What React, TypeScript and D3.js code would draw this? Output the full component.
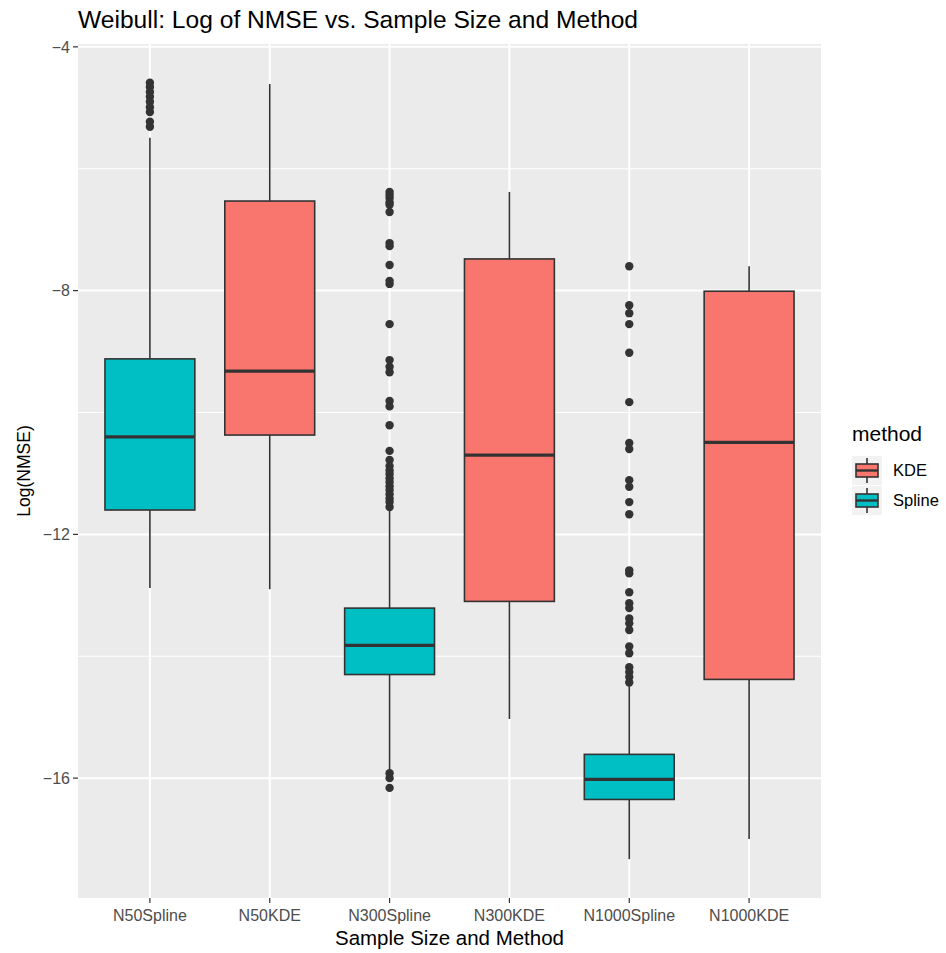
import React from 'react';
import * as d3 from 'd3';

// categories in plot order and the method each belongs to
const categories = ['N50Spline', 'N50KDE', 'N300Spline', 'N300KDE', 'N1000Spline', 'N1000KDE'];
const methodOf = ['Spline', 'KDE', 'Spline', 'KDE', 'Spline', 'KDE'];
const methods = ['KDE', 'Spline'];
const methodColors = ['#F8766D', '#00BFC4'];

// box stats
const whiskerLow = [-12.88, -12.9, -15.87, -15.03, -17.33, -17.0];
const q1 = [-11.6, -10.37, -14.3, -13.1, -16.35, -14.38];
const median = [-10.4, -9.32, -13.82, -10.7, -16.02, -10.49];
const q3 = [-9.12, -6.53, -13.21, -7.48, -15.61, -8.01];
const whiskerHigh = [-5.49, -4.61, -11.6, -6.38, -14.49, -7.6];

// outliers per category
const outliersN50Spline = [-4.59, -4.66, -4.74, -4.82, -4.9, -4.99, -5.07, -5.23, -5.31];
const outliersN50KDE: number[] = [];
const outliersN300Spline = [
  -6.38, -6.43, -6.48, -6.55, -6.59, -6.71, -7.22, -7.27, -7.58, -7.84, -7.89, -8.55,
  -9.14, -9.25, -9.34, -9.81, -9.9, -10.21, -10.63, -10.78, -10.88, -10.95, -11.01,
  -11.08, -11.14, -11.21, -11.27, -11.34, -11.41, -11.47, -11.55, -15.92, -16.0, -16.16,
];
const outliersN300KDE: number[] = [];
const outliersN1000Spline = [
  -7.6, -8.24, -8.37, -8.55, -9.02, -9.83, -10.5, -10.6, -11.11, -11.22, -11.47, -11.67,
  -12.59, -12.64, -12.95, -13.13, -13.21, -13.38, -13.46, -13.57, -13.84, -13.95,
  -14.18, -14.26, -14.34, -14.43,
];
const outliersN1000KDE: number[] = [];
const outliers = [
  outliersN50Spline, outliersN50KDE, outliersN300Spline,
  outliersN300KDE, outliersN1000Spline, outliersN1000KDE,
];

const yTicks = [-16, -12, -8, -4];
const yMinor = [-14, -10, -6];

const W = 946;
const H = 953;
const margin = { top: 44, right: 125, bottom: 55, left: 78 };
const FONT = '"Liberation Sans", Arial, Helvetica, sans-serif';

export default function App() {
  const pw = W - margin.left - margin.right;
  const ph = H - margin.top - margin.bottom;

  const x = d3.scalePoint<string>().domain(categories).range([0, pw]).padding(0.6);
  const step = x.step();
  const boxW = step * 0.75;

  const allVals = [...whiskerLow, ...whiskerHigh, ...outliers.flat()];
  const lo = d3.min(allVals) as number;
  const hi = d3.max(allVals) as number;
  const pad = (hi - lo) * 0.05;
  const y = d3.scaleLinear().domain([lo - pad, hi + pad]).range([ph, 0]);

  const color = d3.scaleOrdinal<string, string>().domain(methods).range(methodColors);
  const grey20 = '#333333';

  return (
    <svg width={W} height={H} style={{ position: 'absolute', left: 0, top: 0 }} fontFamily={FONT}>
      <rect width={W} height={H} fill="#ffffff" />
      <text x={margin.left} y={28} fontSize={24.6} fill="#000">
        Weibull: Log of NMSE vs. Sample Size and Method
      </text>
      <g transform={`translate(${margin.left},${margin.top})`}>
        <rect width={pw} height={ph} fill="#ebebeb" />
        {yMinor.map((t) => (
          <line key={'mn' + t} x1={0} x2={pw} y1={y(t)} y2={y(t)} stroke="#fff" strokeWidth={1} />
        ))}
        {yTicks.map((t) => (
          <line key={'mj' + t} x1={0} x2={pw} y1={y(t)} y2={y(t)} stroke="#fff" strokeWidth={2} />
        ))}
        {categories.map((c) => (
          <line key={'vx' + c} x1={x(c)} x2={x(c)} y1={0} y2={ph} stroke="#fff" strokeWidth={2} />
        ))}

        {categories.map((c, i) => {
          const cx = x(c) as number;
          const fill = color(methodOf[i]);
          return (
            <g key={'box' + c}>
              <line x1={cx} x2={cx} y1={y(whiskerHigh[i])} y2={y(q3[i])} stroke={grey20} strokeWidth={1.6} />
              <line x1={cx} x2={cx} y1={y(q1[i])} y2={y(whiskerLow[i])} stroke={grey20} strokeWidth={1.6} />
              <rect
                x={cx - boxW / 2}
                y={y(q3[i])}
                width={boxW}
                height={y(q1[i]) - y(q3[i])}
                fill={fill}
                stroke={grey20}
                strokeWidth={1.6}
              />
              <line
                x1={cx - boxW / 2}
                x2={cx + boxW / 2}
                y1={y(median[i])}
                y2={y(median[i])}
                stroke={grey20}
                strokeWidth={3.2}
              />
              {outliers[i].map((v, j) => (
                <circle key={j} cx={cx} cy={y(v)} r={4.2} fill={grey20} />
              ))}
            </g>
          );
        })}

        {/* y axis */}
        {yTicks.map((t) => (
          <g key={'yt' + t} transform={`translate(0,${y(t)})`}>
            <line x1={-5} x2={0} stroke={grey20} strokeWidth={1.2} />
            <text x={-8} dy="0.36em" textAnchor="end" fontSize={16} fill="#4d4d4d">
              {t < 0 ? '\u2212' + Math.abs(t) : t}
            </text>
          </g>
        ))}
        {/* x axis */}
        {categories.map((c) => (
          <g key={'xt' + c} transform={`translate(${x(c)},${ph})`}>
            <line y1={0} y2={5} stroke={grey20} strokeWidth={1.2} />
            <text y={23} textAnchor="middle" fontSize={16} fill="#4d4d4d">
              {c}
            </text>
          </g>
        ))}
        <text x={pw / 2} y={ph + 47} textAnchor="middle" fontSize={20.5} fill="#000">
          Sample Size and Method
        </text>
        <text
          transform={`translate(${-48},${ph / 2}) rotate(-90)`}
          textAnchor="middle"
          fontSize={17.5}
          fill="#000"
        >
          Log(NMSE)
        </text>
      </g>

      {/* legend */}
      <g transform="translate(852,0)">
        <text x={0} y={441} fontSize={21} fill="#000">
          method
        </text>
        {methods.map((m, i) => {
          const ky = 456 + i * 30;
          return (
            <g key={'lg' + m} transform={`translate(0,${ky})`}>
              <rect x={0} y={0} width={30} height={29} fill="#f2f2f2" />
              <line x1={15} x2={15} y1={2} y2={27} stroke={grey20} strokeWidth={1.6} />
              <rect x={4} y={8} width={22} height={13} fill={color(m)} stroke={grey20} strokeWidth={1.6} />
              <line x1={4} x2={26} y1={14.5} y2={14.5} stroke={grey20} strokeWidth={2.4} />
              <text x={41} y={14.5} dy="0.36em" fontSize={16.5} fill="#000">
                {m}
              </text>
            </g>
          );
        })}
      </g>
    </svg>
  );
}
